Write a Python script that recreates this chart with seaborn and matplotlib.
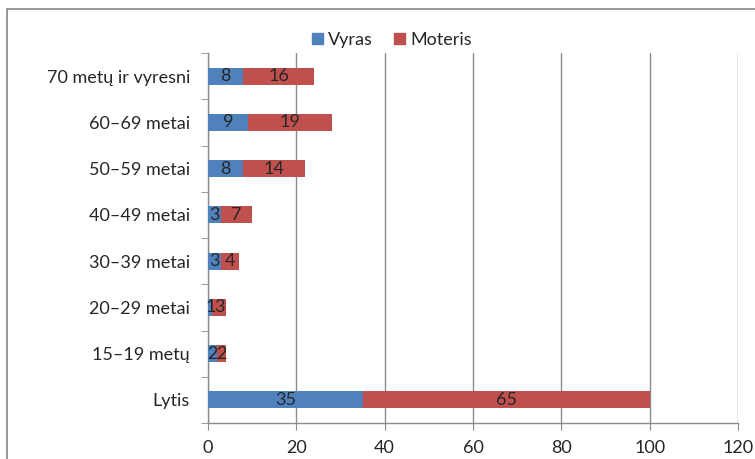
import numpy as np
import pandas as pd
import matplotlib.pyplot as plt
import matplotlib.patches as mpatches
import seaborn as sns

categories = ["70 metų ir vyresni", "60–69 metai", "50–59 metai", "40–49 metai",
              "30–39 metai", "20–29 metai", "15–19 metų", "Lytis"]
vyras = [8, 9, 8, 3, 3, 1, 2, 35]
moteris = [16, 19, 14, 7, 4, 3, 2, 65]

blue = "#4F81BD"
red = "#C0504D"
grid_col = "#8c8c8c"
fs = 13

df = pd.DataFrame({"cat": categories, "Vyras": vyras, "Moteris": moteris})
df["total"] = df["Vyras"] + df["Moteris"]

sns.set_style("white")
plt.rcParams["font.family"] = ["Lato", "DejaVu Sans"]

fig = plt.figure(figsize=(7.55, 4.59), dpi=100)
ax = fig.add_axes([208 / 755, 1 - 423 / 459, 530 / 755, 370 / 459])

# stacked bars: total (red) first, then Vyras (blue) on top
sns.barplot(data=df, y="cat", x="total", color=red, width=0.37, linewidth=0,
            saturation=1, ax=ax, orient="h", zorder=3)
sns.barplot(data=df, y="cat", x="Vyras", color=blue, width=0.37, linewidth=0,
            saturation=1, ax=ax, orient="h", zorder=3)

# value labels, centred in each segment (the small ones overlap, as in the original)
for i, (v, m) in enumerate(zip(vyras, moteris)):
    ax.text(v / 2, i, str(v), ha="center", va="center", fontsize=fs, zorder=4)
    ax.text(v + m / 2, i, str(m), ha="center", va="center", fontsize=fs, zorder=4)

ax.set_xlim(0, 120)
ax.set_ylim(len(categories) - 0.5, -0.5)
ax.set_xticks(np.arange(0, 121, 20))
ax.xaxis.grid(True, color=grid_col, lw=1)
ax.set_axisbelow(True)
ax.set_xlabel("")
ax.set_ylabel("")

for s in ["top", "right"]:
    ax.spines[s].set_visible(False)
for s in ["left", "bottom"]:
    ax.spines[s].set_color(grid_col)
    ax.spines[s].set_linewidth(1)

ax.tick_params(axis="x", length=5, color=grid_col, direction="out",
               labelsize=fs, pad=7, bottom=True)
ax.set_yticks(np.arange(-0.5, len(categories), 1), minor=True)
ax.tick_params(axis="y", which="minor", length=5, color=grid_col, left=True)
ax.tick_params(axis="y", which="major", length=0, pad=13, labelsize=fs)

handles = [mpatches.Patch(color=blue, label="Vyras"),
           mpatches.Patch(color=red, label="Moteris")]
fig.legend(handles=handles, loc="center", bbox_to_anchor=(392 / 755, 1 - 40 / 459),
           ncol=2, frameon=False, fontsize=fs, handlelength=0.6, handleheight=0.6,
           handletextpad=0.3, columnspacing=1.2)

# outer chart frame
fig.add_artist(mpatches.Rectangle((7 / 755, -0.1), 1.0, 1 - 9 / 459 + 0.1,
                                  transform=fig.transFigure, fill=False,
                                  edgecolor="#868686", lw=1.2))

fig.savefig("out.png", dpi=100)
